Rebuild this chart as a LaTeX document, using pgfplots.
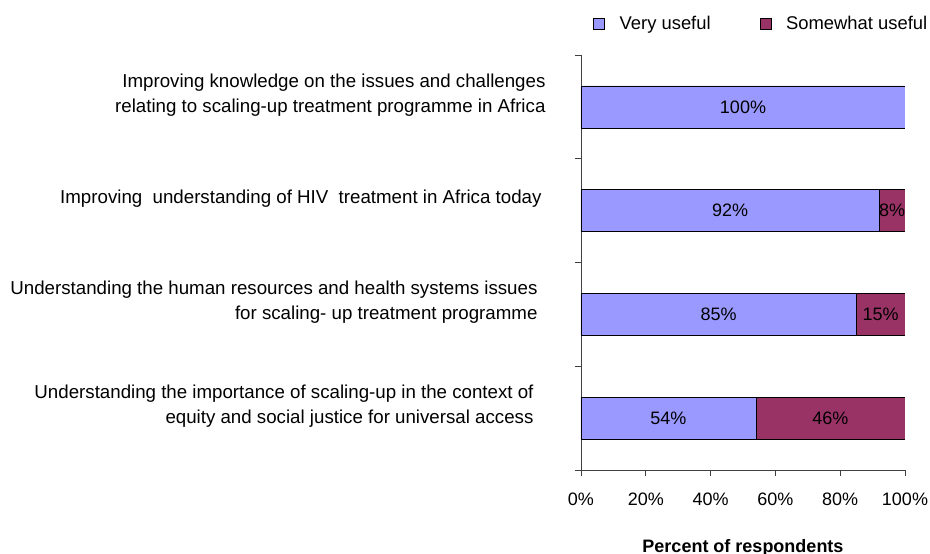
\documentclass[border=0pt]{standalone}
\usepackage{pgfplots}
\pgfplotsset{compat=1.18}
\usepackage{fontspec}
\setmainfont{Liberation Sans}
\definecolor{vu}{HTML}{9999FF}
\definecolor{su}{HTML}{993366}
\pgfplotsset{
  sqleg/.style={legend image code/.code={\draw[##1,draw=black] (0pt,-5.5pt) rectangle (11pt,5.5pt);}},
  common/.style={
    at={(581pt,-470pt)}, anchor=south west,
    scale only axis, width=324pt, height=415pt,
    xmin=0, xmax=100, ymin=0.5, ymax=4.5,
  }
}
\begin{document}
\begin{tikzpicture}[font=\fontsize{18pt}{22pt}\selectfont]
\begin{axis}[common,
  xbar stacked, bar width=42pt,
  axis x line*=bottom, axis y line*=left,
  axis line style={black!75, line width=0.8pt},
  tick style={black!75, line width=0.8pt},
  tick align=outside, major tick length=6pt,
  xtick={0,20,40,60,80,100},
  xticklabels={0\%,20\%,40\%,60\%,80\%,100\%},
  xticklabel style={anchor=base, yshift=-29pt},
  ytick={0.5,1.5,2.5,3.5,4.5}, yticklabels={},
  extra y ticks={1,2,3,4},
  extra y tick labels={
    {Understanding the importance of scaling-up in the context of\rule{12pt}{0pt}\\equity and social justice for universal access\rule{12pt}{0pt}},
    {Understanding the human resources and health systems issues\rule{8pt}{0pt}\\for scaling- up treatment programme\rule{8pt}{0pt}},
    {Improving\ \ understanding of HIV\ \ treatment in Africa today\rule{4pt}{0pt}},
    {Improving knowledge on the issues and challenges\\relating to scaling-up treatment programme in Africa}},
  extra y tick style={major tick length=0pt, yticklabel style={align=right, anchor=east, yshift=12pt, xshift=-32pt, font=\fontsize{18.7pt}{25pt}\selectfont}},
  xlabel={\bfseries Percent of respondents},
  every axis x label/.style={at={(axis description cs:0.5,0)}, anchor=base, yshift=-82pt},
  legend style={at={(axis description cs:0.028,1.0747)}, anchor=west, draw=none, fill=none,
    font=\fontsize{18.4pt}{22pt}\selectfont,
    legend columns=2,
    /tikz/every odd column/.append style={column sep=13pt},
    /tikz/every even column/.append style={column sep=47pt}},
]
\addplot[fill=vu, draw=black, sqleg] coordinates {(54,1) (85,2) (92,3) (100,4)};
\addplot[fill=su, draw=black, sqleg] coordinates {(46,1) (15,2) (8,3)};
\legend{Very useful, Somewhat useful}
\end{axis}
\begin{axis}[common, hide axis]
\addplot[only marks, mark=*, mark size=0pt, mark options={draw=none, fill=none},
  nodes near coords, point meta=explicit symbolic,
  every node near coord/.style={anchor=center, font=\fontsize{18pt}{22pt}\selectfont}]
  coordinates {(27,1)[54\%] (77,1)[46\%] (42.5,2)[85\%] (92.5,2)[15\%] (46,3)[92\%] (96,3)[8\%] (50,4)[100\%]};
\end{axis}
\pgfresetboundingbox
\useasboundingbox (0,0) rectangle (930pt,-554pt);
\end{tikzpicture}
\end{document}
